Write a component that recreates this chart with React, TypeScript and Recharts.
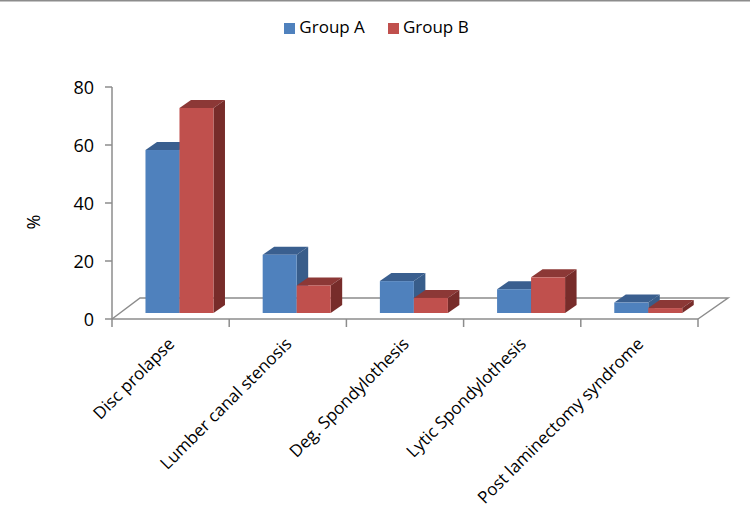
import React from 'react';
import { BarChart, Bar, XAxis, YAxis, Legend, Customized } from 'recharts';

const categories = ['Disc prolapse', 'Lumber canal stenosis', 'Deg. Spondylothesis', 'Lytic Spondylothesis', 'Post laminectomy syndrome'];
const groupA = [56.2, 20.1, 11, 8.2, 3.6];
const groupB = [70.7, 9.5, 5.2, 12.3, 1.7];
const yTicks = [0, 20, 40, 60, 80];
const rows = categories.map((name, i) => ({ name, a: groupA[i], b: groupB[i] }));

const FONT = '"Open Sans", sans-serif';
const GREY = '#8c8c8c';
const INK = '#000000';
const W = 750, H = 519, L = 112, R = 52, T = 87, B = 200;
const FLOOR_X = 28, FLOOR_Y = 21;
const SHIFT_X = 8.4, SHIFT_Y = 6, DEPTH_X = 11.5, DEPTH_Y = 8;

const Bar3D = (colors: { front: string; top: string; side: string }) => (p: any) => {
  const x = p.x + SHIFT_X, y = p.y - SHIFT_Y, w = p.width, h = p.height;
  return (
    <g>
      <polygon fill={colors.top} points={`${x},${y} ${x + DEPTH_X},${y - DEPTH_Y} ${x + w + DEPTH_X},${y - DEPTH_Y} ${x + w},${y}`} />
      <polygon fill={colors.side} points={`${x + w},${y} ${x + w + DEPTH_X},${y - DEPTH_Y} ${x + w + DEPTH_X},${y + h - DEPTH_Y} ${x + w},${y + h}`} />
      <rect x={x} y={y} width={w} height={h} fill={colors.front} />
    </g>
  );
};

const XTick = (p: any) => {
  const band = (W - L - R) / categories.length;
  const left = p.x - band / 2;
  const last = p.index === categories.length - 1;
  const tx = p.x + 5, ty = p.y + 18;
  return (
    <g>
      <line x1={left} x2={left} y1={p.y - 8} y2={p.y} stroke={GREY} strokeWidth={1.5} />
      {last && <line x1={left + band} x2={left + band} y1={p.y - 8} y2={p.y} stroke={GREY} strokeWidth={1.5} />}
      <text
        x={tx}
        y={ty}
        transform={`rotate(-45 ${tx} ${ty})`}
        textAnchor="end"
        fontFamily={FONT}
        fontSize={17}
        fill={INK}
      >
        {p.payload.value}
      </text>
    </g>
  );
};

const Frame = () => {
  const x0 = L, x1 = W - R, y0 = H - B;
  return (
    <g>
      <line x1={0} x2={W} y1={0.5} y2={0.5} stroke={GREY} strokeWidth={2} />
      <polyline
        fill="none"
        stroke={GREY}
        strokeWidth={1.5}
        points={`${x0},${y0} ${x0 + FLOOR_X},${y0 - FLOOR_Y} ${x1 + FLOOR_X + 2},${y0 - FLOOR_Y} ${x1},${y0}`}
      />
      <text
        x={35}
        y={222}
        transform="rotate(-90 35 222)"
        textAnchor="middle"
        dominantBaseline="middle"
        fontFamily={FONT}
        fontSize={18}
        fill={INK}
      >
        %
      </text>
    </g>
  );
};

export default function App() {
  return (
    <div style={{ position: 'absolute', left: 0, top: 0, width: W, height: H }}>
      <BarChart
        width={W}
        height={H}
        data={rows}
        margin={{ top: T, right: R, bottom: 0, left: 0 }}
        barCategoryGap="21.4%"
        barGap={0}
      >
        <Customized component={<Frame />} />
        <XAxis
          dataKey="name"
          interval={0}
          height={B}
          tick={<XTick />}
          tickLine={false}
          axisLine={{ stroke: GREY, strokeWidth: 1.5 }}
        />
        <YAxis
          width={L}
          domain={[0, 80]}
          ticks={yTicks}
          tickSize={7}
          tickMargin={11}
          axisLine={{ stroke: GREY, strokeWidth: 1.5 }}
          tickLine={{ stroke: GREY, strokeWidth: 1.5 }}
          tick={{ fontFamily: FONT, fontSize: 18, fill: INK, dy: 1 }}
        />
        <Legend
          verticalAlign="middle"
          align="center"
          iconType="square"
          iconSize={11}
          wrapperStyle={{ top: 15, left: 6.5, width: W, fontFamily: FONT, fontSize: 17 }}
          formatter={(v: string) => (
            <span style={{ color: INK, marginRight: v === 'Group A' ? 13 : 0 }}>{v}</span>
          )}
        />
        <Bar dataKey="a" name="Group A" fill="#4F81BD" isAnimationActive={false} shape={Bar3D({ front: '#4F81BD', top: '#3A5F8F', side: '#385D8A' })} />
        <Bar dataKey="b" name="Group B" fill="#C0504D" isAnimationActive={false} shape={Bar3D({ front: '#C0504D', top: '#8C3836', side: '#772C2A' })} />
      </BarChart>
    </div>
  );
}
